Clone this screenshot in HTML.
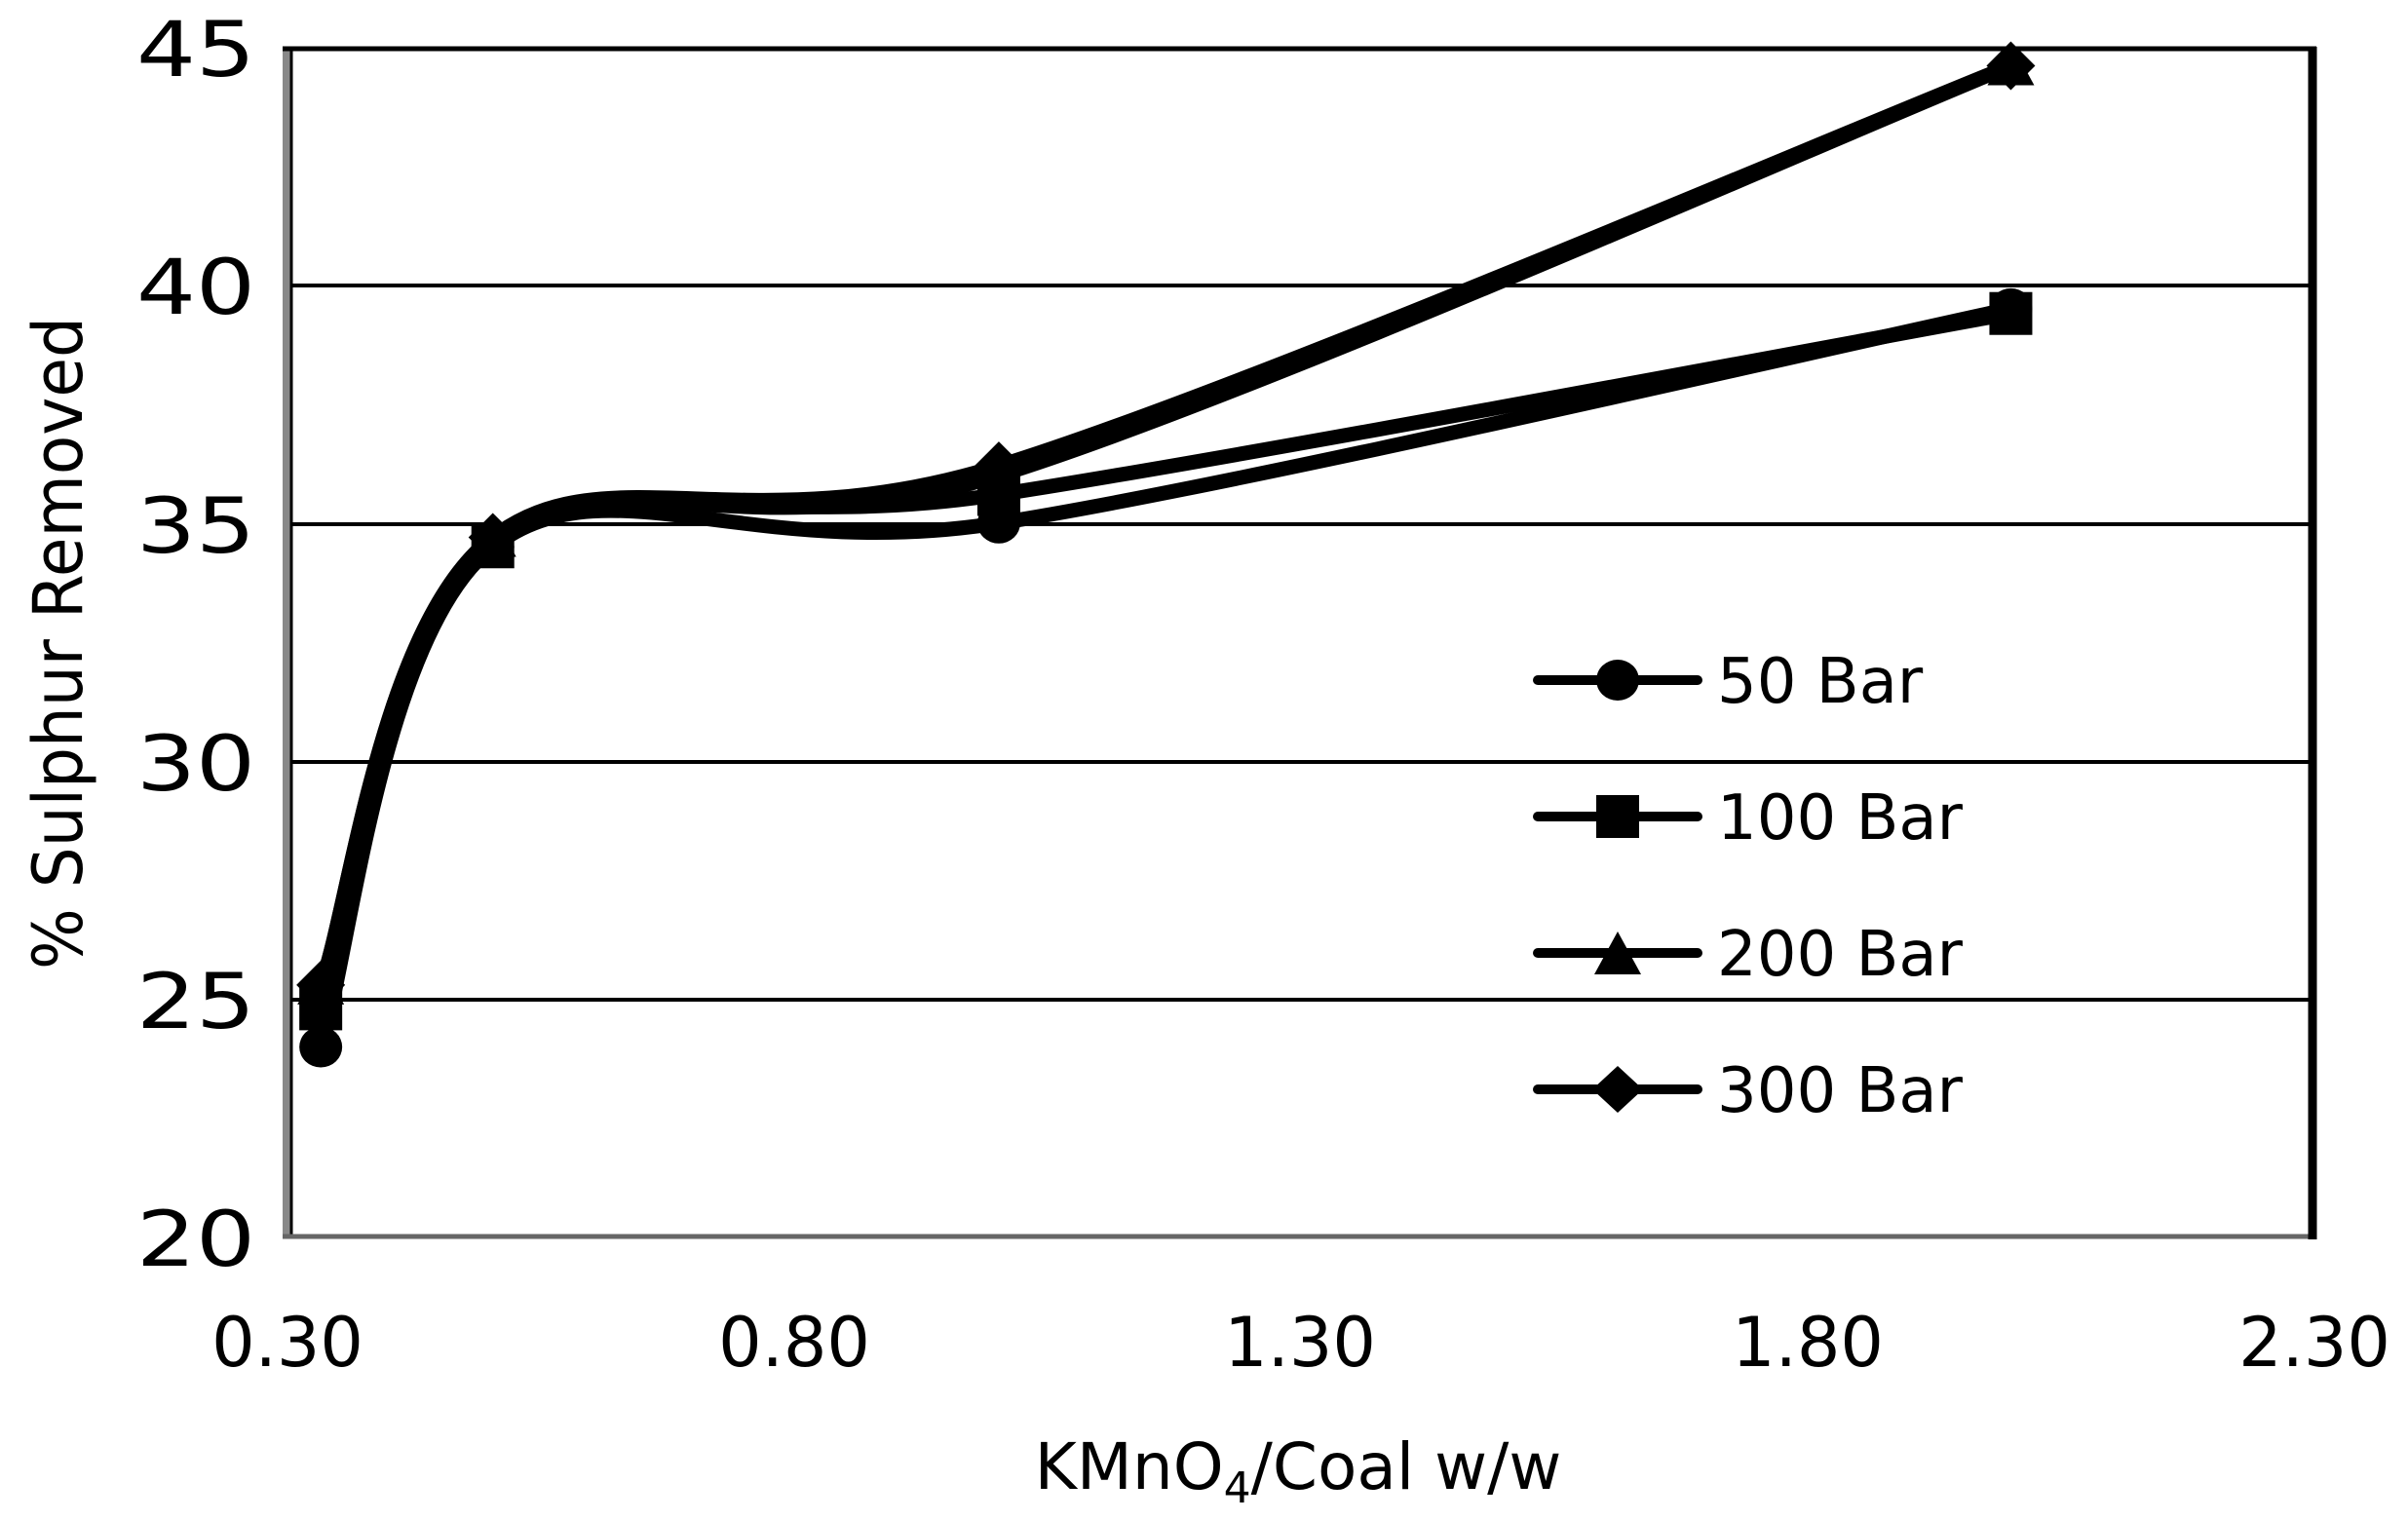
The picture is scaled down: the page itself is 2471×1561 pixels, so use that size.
<!DOCTYPE html>
<html><head><meta charset="utf-8">
<style>
html,body{margin:0;padding:0;background:#fff;}
svg{display:block;}
text{font-family:"DejaVu Sans","Liberation Sans",sans-serif;fill:#000;}
</style></head>
<body>
<svg id="s" width="2471" height="1561" viewBox="0 0 2471 1561" xmlns="http://www.w3.org/2000/svg">
<rect width="2471" height="1561" fill="#fff"/>
<g stroke="#000" stroke-width="4">
<line x1="298" y1="293" x2="2373" y2="293"/>
<line x1="298" y1="538" x2="2373" y2="538"/>
<line x1="298" y1="782" x2="2373" y2="782"/>
<line x1="298" y1="1026" x2="2373" y2="1026"/>
</g>
<line x1="294" y1="48" x2="294" y2="1270" stroke="#888" stroke-width="8"/>
<line x1="299" y1="48" x2="299" y2="1270" stroke="#000" stroke-width="3"/>
<line x1="290" y1="50" x2="2377" y2="50" stroke="#000" stroke-width="5"/>
<line x1="290" y1="1269" x2="2377" y2="1269" stroke="#666" stroke-width="5"/>
<line x1="2373" y1="48" x2="2373" y2="1272" stroke="#000" stroke-width="9"/>
<g id="series" fill="none" stroke="#000" stroke-width="15" stroke-linejoin="round"></g>
<g id="markers" fill="#000"></g>
<g font-size="78" text-anchor="end">
<text x="262" y="78" textLength="122" lengthAdjust="spacingAndGlyphs">45</text>
<text x="262" y="322" textLength="122" lengthAdjust="spacingAndGlyphs">40</text>
<text x="262" y="567" textLength="122" lengthAdjust="spacingAndGlyphs">35</text>
<text x="262" y="811" textLength="122" lengthAdjust="spacingAndGlyphs">30</text>
<text x="262" y="1055" textLength="122" lengthAdjust="spacingAndGlyphs">25</text>
<text x="262" y="1299" textLength="122" lengthAdjust="spacingAndGlyphs">20</text>
</g>
<g font-size="70" text-anchor="middle">
<text x="295" y="1402">0.30</text>
<text x="815" y="1402">0.80</text>
<text x="1334" y="1402">1.30</text>
<text x="1855" y="1402">1.80</text>
<text x="2375" y="1402">2.30</text>
</g>
<text x="1332" y="1528" font-size="66" text-anchor="middle">KMnO<tspan font-size="44" dy="14">4</tspan><tspan dy="-14">/Coal w/w</tspan></text>
<text transform="translate(84,660) rotate(-90)" font-family="Liberation Sans" font-size="70" text-anchor="middle" textLength="670" lengthAdjust="spacingAndGlyphs">% Sulphur Removed</text>
<g stroke="#000" stroke-width="10" stroke-linecap="round">
<line x1="1578" y1="698" x2="1742" y2="698"/>
<line x1="1578" y1="838" x2="1742" y2="838"/>
<line x1="1578" y1="978" x2="1742" y2="978"/>
<line x1="1578" y1="1118" x2="1742" y2="1118"/>
</g>
<g fill="#000">
<ellipse cx="1660" cy="698" rx="22" ry="21"/>
<rect x="1638" y="816" width="44" height="44"/>
<polygon points="1660,956 1684,1000 1636,1000"/>
<polygon points="1660,1094 1686,1118 1660,1142 1634,1118"/>
</g>
<g font-size="64">
<text x="1762" y="721">50 Bar</text>
<text x="1762" y="861">100 Bar</text>
<text x="1762" y="1001">200 Bar</text>
<text x="1762" y="1141">300 Bar</text>
</g>
</svg>
<script>
(function(){
var xs=[0.33,0.5,1.0,2.0];
function X(v){return 298+(v-0.3)*1038.5;}
function Y(v){return 1270-(v-20)*48.88;}
var data=[[24.0,34.5,35.0,39.5],[24.8,34.5,35.6,39.4],[25.3,34.7,36.0,44.6],[25.3,34.7,36.2,44.6]];
var ns="http://www.w3.org/2000/svg";
var g=document.getElementById("series"),m=document.getElementById("markers");
data.forEach(function(d,k){
 var p=xs.map(function(x,i){return [X(x),Y(d[i])];});
 var s="M"+p[0][0]+","+p[0][1];
 for(var i=0;i<p.length-1;i++){
  var a=p[i-1]||p[i],b=p[i],c=p[i+1],e=p[i+2]||p[i+1];
  var c1=[b[0]+(c[0]-a[0])/6,b[1]+(c[1]-a[1])/6];
  var c2=[c[0]-(e[0]-b[0])/6,c[1]-(e[1]-b[1])/6];
  s+=" C"+c1+" "+c2+" "+c;
 }
 var path=document.createElementNS(ns,"path");path.setAttribute("d",s);g.appendChild(path);
 p.forEach(function(q){
  var el;
  if(k==0){el=document.createElementNS(ns,"ellipse");el.setAttribute("cx",q[0]);el.setAttribute("cy",q[1]);el.setAttribute("rx",22);el.setAttribute("ry",21);}
  else if(k==1){el=document.createElementNS(ns,"rect");el.setAttribute("x",q[0]-22);el.setAttribute("y",q[1]-22);el.setAttribute("width",44);el.setAttribute("height",44);}
  else if(k==2){el=document.createElementNS(ns,"polygon");el.setAttribute("points",[q[0],q[1]-24,q[0]+24,q[1]+20,q[0]-24,q[1]+20].join(","));}
  else {el=document.createElementNS(ns,"polygon");el.setAttribute("points",[q[0],q[1]-25,q[0]+25,q[1],q[0],q[1]+25,q[0]-25,q[1]].join(","));}
  m.appendChild(el);
 });
});
})();
</script>
</body></html>
